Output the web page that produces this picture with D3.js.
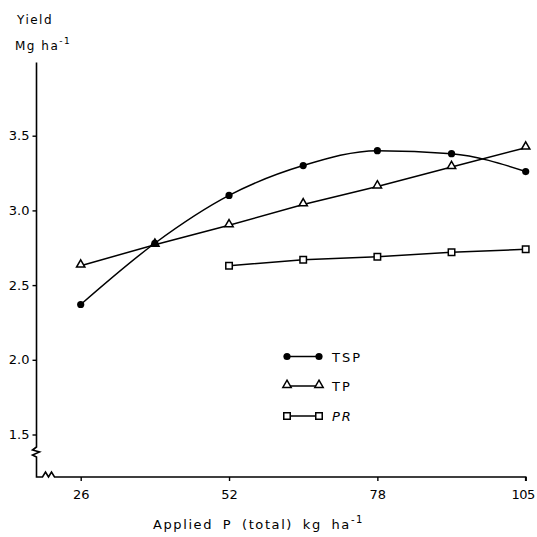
<!DOCTYPE html>
<html>
<head>
<meta charset="utf-8">
<script src="https://cdn.jsdelivr.net/npm/d3@7"></script>
<style>
  body { margin: 0; background: #fff; }
  svg { display: block; }
  text { font-family: "DejaVu Sans", sans-serif; fill: #000; }
  .tick text { font-size: 13px; }
  .line { fill: none; stroke: #000; stroke-width: 1.5; }
</style>
</head>
<body>
<script>
// data
const rates = [26, 39, 52, 65, 78, 91, 104];
const tsp = [2.37, 2.78, 3.10, 3.30, 3.40, 3.38, 3.26];
const tp = [2.63, 2.77, 2.90, 3.04, 3.16, 3.29, 3.42];
const prRates = [52, 65, 78, 91, 104];
const pr = [2.63, 2.67, 2.69, 2.72, 2.74];

const xTicks = [26, 52, 78, 104];
const xTickLabels = ['26', '52', '78', '105'];
const yTicks = [1.5, 2.0, 2.5, 3.0, 3.5];

const W = 537, H = 537;

const svg = d3.select(document.body).append('svg')
  .attr('width', W)
  .attr('height', H);

const x = d3.scaleLinear().domain([26, 104]).range([80.7, 525.7]);
const y = d3.scaleLinear().domain([1.5, 3.5]).range([434.5, 135.7]);

const x0 = 36.5;          // y axis position
const y0 = 477;           // x axis position
const yTop = y(3.99);
const xEnd = x(104);

// axes lines with break marks
const axisPath = d3.path();
axisPath.moveTo(x0, yTop);
axisPath.lineTo(x0, 447);
axisPath.lineTo(x0 - 4, 450);
axisPath.lineTo(x0 + 3, 452);
axisPath.lineTo(x0 - 4, 455);
axisPath.lineTo(x0, 457);
axisPath.lineTo(x0, y0);
axisPath.lineTo(x0 + 6, y0);
axisPath.lineTo(x0 + 9, y0 - 5);
axisPath.lineTo(x0 + 12, y0);
axisPath.lineTo(x0 + 15, y0 - 5);
axisPath.lineTo(x0 + 18, y0);
axisPath.lineTo(xEnd, y0);
axisPath.lineTo(xEnd, y0 + 4);

svg.append('path')
  .attr('d', axisPath.toString())
  .attr('fill', 'none')
  .attr('stroke', '#000')
  .attr('stroke-width', 1.6);

const yAxis = svg.append('g')
  .attr('transform', `translate(${x0},0)`)
  .call(d3.axisLeft(y).tickValues(yTicks).tickSize(4).tickPadding(3).tickFormat(d3.format('.1f')));
yAxis.select('.domain').remove();
yAxis.selectAll('.tick line').attr('stroke-width', 1.4);

const xAxis = svg.append('g')
  .attr('transform', `translate(0,${y0})`)
  .call(d3.axisBottom(x).tickValues(xTicks).tickSize(4).tickPadding(9)
    .tickFormat((d, i) => xTickLabels[i]));
xAxis.select('.domain').remove();
xAxis.selectAll('.tick line').attr('stroke-width', 1.4);
xAxis.selectAll('.tick text').filter((d, i) => i === xTicks.length - 1)
  .attr('dx', -3).style('letter-spacing', '-0.5px');

// axis titles
svg.append('text')
  .attr('x', 17).attr('y', 24)
  .style('font-size', '12px')
  .style('letter-spacing', '1.5px')
  .text('Yield');

const yUnit = svg.append('text')
  .attr('x', 15).attr('y', 50)
  .style('font-size', '12px')
  .style('letter-spacing', '1.5px');
yUnit.append('tspan').text('Mg ha');
yUnit.append('tspan').attr('dy', -6).style('font-size', '9px').text('-1');

const xTitle = svg.append('text')
  .attr('x', 153).attr('y', 529)
  .style('font-size', '13px')
  .style('letter-spacing', '1.6px')
  .style('word-spacing', '4px');
xTitle.append('tspan').text('Applied P (total) kg ha');
xTitle.append('tspan').attr('dy', -6).style('font-size', '10px').text('-1');

// series
const tspData = rates.map((r, i) => [r, tsp[i]]);
const tpData = rates.map((r, i) => [r, tp[i]]);
const prData = prRates.map((r, i) => [r, pr[i]]);

const straight = d3.line().x(d => x(d[0])).y(d => y(d[1]));
const smooth = d3.line().x(d => x(d[0])).y(d => y(d[1])).curve(d3.curveMonotoneX);

svg.append('path').attr('class', 'line').attr('d', smooth(tspData));
svg.append('path').attr('class', 'line').attr('d', straight(tpData));
svg.append('path').attr('class', 'line').attr('d', straight(prData));

const triangle = d3.symbol().type(d3.symbolTriangle).size(30);
const square = d3.symbol().type(d3.symbolSquare).size(42);

function drawDots(g, data) {
  g.selectAll('circle').data(data).enter().append('circle')
    .attr('cx', d => x(d[0])).attr('cy', d => y(d[1]))
    .attr('r', 3.6).attr('fill', '#000');
}
function drawTriangles(g, data) {
  g.selectAll('path').data(data).enter().append('path')
    .attr('d', triangle)
    .attr('transform', d => `translate(${x(d[0])},${y(d[1]) - 1})`)
    .attr('fill', '#fff').attr('stroke', '#000').attr('stroke-width', 1.5);
}
function drawSquares(g, data) {
  g.selectAll('path').data(data).enter().append('path')
    .attr('d', square)
    .attr('transform', d => `translate(${x(d[0])},${y(d[1])})`)
    .attr('fill', '#fff').attr('stroke', '#000').attr('stroke-width', 1.5);
}

drawTriangles(svg.append('g'), tpData);
drawSquares(svg.append('g'), prData);
drawDots(svg.append('g'), tspData);

// legend
const legend = [
  { name: 'TSP', y: 356.5, kind: 'dot', italic: false },
  { name: 'TP', y: 386, kind: 'tri', italic: false },
  { name: 'PR', y: 416, kind: 'sq', italic: true }
];
const lx1 = 287, lx2 = 319;
legend.forEach(l => {
  const g = svg.append('g');
  g.append('line')
    .attr('x1', lx1).attr('x2', lx2)
    .attr('y1', l.y).attr('y2', l.y)
    .attr('stroke', '#000').attr('stroke-width', 1.5);
  [lx1, lx2].forEach(px => {
    if (l.kind === 'dot') {
      g.append('circle').attr('cx', px).attr('cy', l.y).attr('r', 3.6).attr('fill', '#000');
    } else if (l.kind === 'tri') {
      g.append('path').attr('d', triangle)
        .attr('transform', `translate(${px},${l.y - 1})`)
        .attr('fill', '#fff').attr('stroke', '#000').attr('stroke-width', 1.5);
    } else {
      g.append('path').attr('d', square)
        .attr('transform', `translate(${px},${l.y})`)
        .attr('fill', '#fff').attr('stroke', '#000').attr('stroke-width', 1.5);
    }
  });
  g.append('text')
    .attr('x', 332).attr('y', l.y + 5)
    .style('font-size', '13px')
    .style('letter-spacing', '2px')
    .style('font-style', l.italic ? 'italic' : 'normal')
    .text(l.name);
});
</script>
</body>
</html>
